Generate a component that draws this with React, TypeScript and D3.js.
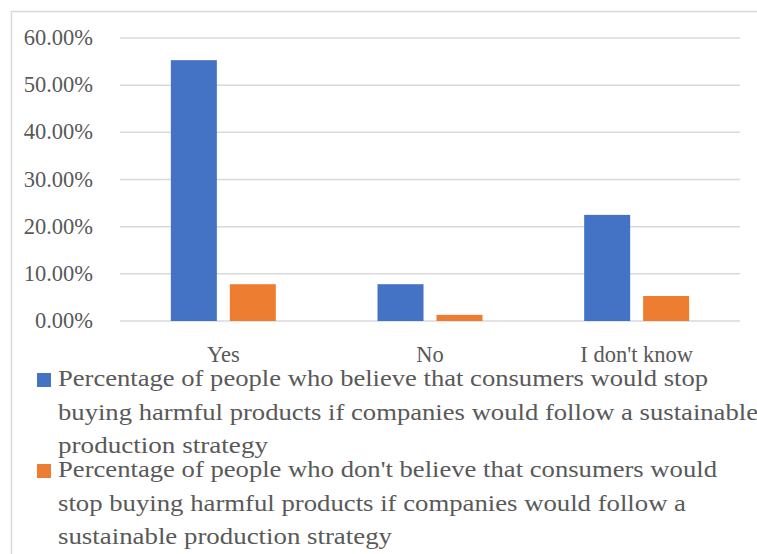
import React from "react";
import * as d3 from "d3";

const categories = ["Yes", "No", "I don't know"];
const seriesNames = ["believe", "dontBelieve"];
const believeValues = [0.553, 0.078, 0.225];
const dontBelieveValues = [0.078, 0.013, 0.053];
const yTicks = [0, 0.1, 0.2, 0.3, 0.4, 0.5, 0.6];
const legendLinesBelieve = [
  "Percentage of people who believe that consumers would stop",
  "buying harmful products if companies would follow a sustainable",
  "production strategy",
];
const legendLinesDont = [
  "Percentage of people who don't believe that consumers would",
  "stop buying harmful products if companies would follow a",
  "sustainable production strategy",
];

const W = 757;
const H = 554;
const colors = ["#4472C4", "#ED7D31"];
const textColor = "#595959";
const gridColor = "#D9D9D9";
const FONT = "'Liberation Serif', 'Times New Roman', serif";
const legendWidths1 = [650, 700, 210];
const legendWidths2 = [659, 628, 334];

export default function App() {
  const plotLeft = 120;
  const plotRight = 740;
  const y = d3.scaleLinear().domain([0, 0.6]).range([321, 38]);
  const x0 = d3
    .scaleBand<string>()
    .domain(categories)
    .range([plotLeft, plotRight])
    .paddingInner(0.492)
    .paddingOuter(0.246);
  const x1 = d3
    .scaleBand<string>()
    .domain(seriesNames)
    .range([0, x0.bandwidth()])
    .paddingInner(0.22);
  const fmt = d3.format(".2%");
  const series = [believeValues, dontBelieveValues];

  const legendBlocks = [
    { lines: legendLinesBelieve, widths: legendWidths1, base: 386, color: colors[0] },
    { lines: legendLinesDont, widths: legendWidths2, base: 477, color: colors[1] },
  ];

  return (
    <svg
      width={W}
      height={H}
      style={{ position: "absolute", left: 0, top: 0, background: "#fff" }}
      fontFamily={FONT}
    >
      <rect x={0} y={0} width={W} height={H} fill="#fff" />
      {/* chart frame */}
      <path d={`M11.5,${H} V11.5 H${W}`} fill="none" stroke={gridColor} strokeWidth={1.5} />
      {/* gridlines */}
      {yTicks.map((t) => (
        <line
          key={t}
          x1={plotLeft}
          x2={plotRight}
          y1={y(t)}
          y2={y(t)}
          stroke={gridColor}
          strokeWidth={1.5}
        />
      ))}
      {/* y tick labels */}
      {yTicks.map((t) => (
        <text
          key={"l" + t}
          x={93}
          y={y(t) + 7}
          textAnchor="end"
          fontSize={22.5}
          fill={textColor}
        >
          {fmt(t)}
        </text>
      ))}
      {/* bars */}
      {categories.map((c, ci) =>
        series.map((vals, si) => (
          <rect
            key={c + si}
            x={(x0(c) ?? 0) + (x1(seriesNames[si]) ?? 0)}
            y={y(vals[ci])}
            width={x1.bandwidth()}
            height={y(0) - y(vals[ci])}
            fill={colors[si]}
          />
        ))
      )}
      {/* category labels */}
      {categories.map((c) => (
        <text
          key={"c" + c}
          x={(x0(c) ?? 0) + x0.bandwidth() / 2}
          y={362}
          textAnchor="middle"
          fontSize={22.5}
          fill={textColor}
        >
          {c}
        </text>
      ))}
      {/* legend */}
      {legendBlocks.map((b, bi) => (
        <g key={"lg" + bi}>
          <rect x={37} y={b.base - 13} width={14} height={14} fill={b.color} />
          {b.lines.map((ln, li) => (
            <text
              key={li}
              x={58}
              y={b.base + li * 33.5}
              fontSize={23.5}
              fill={textColor}
              textLength={b.widths[li]}
              lengthAdjust="spacingAndGlyphs"
            >
              {ln}
            </text>
          ))}
        </g>
      ))}
    </svg>
  );
}
